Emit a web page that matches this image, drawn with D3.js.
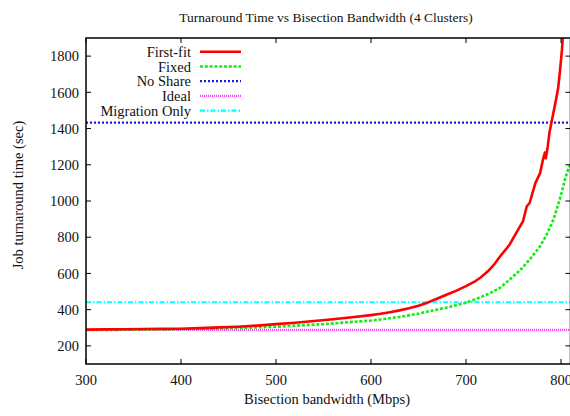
<!DOCTYPE html>
<html>
<head>
<meta charset="utf-8">
<script src="https://cdn.jsdelivr.net/npm/d3@7"></script>
<style>
  html, body { margin: 0; padding: 0; background: #fff; }
  svg { display: block; font-family: "Liberation Serif", "Times New Roman", serif; }
</style>
</head>
<body>
<svg id="chart" width="570" height="416"></svg>
<script>
// ---- data ----
const title = "Turnaround Time vs Bisection Bandwidth (4 Clusters)";
const xLabel = "Bisection bandwidth (Mbps)";
const yLabel = "Job turnaround time (sec)";
const xTicks = [300, 400, 500, 600, 700, 800];
const yTicks = [200, 400, 600, 800, 1000, 1200, 1400, 1600, 1800];

const firstFitX = [300,320,340,360,380,400,420,440,460,480,500,520,540,560,580,600,610,620,630,640,650,660,670,680,690,700,710,715,720,725,730,736,746,757,760,764,767,773,778,781,783,784,786,788,790,794,797,799,801,802];
const firstFitY = [290,291,292,293,294,295,298,302,306,312,320,328,337,347,358,370,377,386,396,408,422,440,462,484,505,530,558,576,598,622,652,695,760,861,888,971,989,1099,1154,1228,1268,1236,1300,1383,1435,1539,1622,1723,1834,1910];

const fixedX = [300,350,400,450,500,550,600,610,630,650,660,680,700,715,725,736,746,757,767,778,785,792,797,801,804,808,810];
const fixedY = [288,289,292,297,306,320,340,346,360,378,390,412,438,468,490,521,567,618,677,750,815,897,980,1053,1117,1182,1200];

const noShareValue = 1433;
const idealValue = 288;
const migrationValue = 441;

const seriesNames = ["First-fit", "Fixed", "No Share", "Ideal", "Migration Only"];

// ---- layout ----
const svg = d3.select("#chart");
const L = 86, R = 570.5, T = 38, B = 364;
const x = d3.scaleLinear().domain([300, 810]).range([L, R]);
const y = d3.scaleLinear().domain([100, 1900]).range([B, T]);

const styles = {
  "First-fit":      { color: "#ff0000", width: 2.6, dash: null },
  "Fixed":          { color: "#11ee11", width: 2.6, dash: "3,1.8" },
  "No Share":       { color: "#1a1aee", width: 2.2, dash: "2,2" },
  "Ideal":          { color: "#ee44ee", width: 2.2, dash: "1,1" },
  "Migration Only": { color: "#00ffff", width: 2.2, dash: "5,2,1.5,2" }
};

svg.append("defs").append("clipPath").attr("id", "plotclip")
  .append("rect").attr("x", L).attr("y", T).attr("width", R - L).attr("height", B - T);

const plot = svg.append("g").attr("clip-path", "url(#plotclip)");
const line = d3.line().x(d => x(d[0])).y(d => y(d[1]));

function drawSeries(name, pts) {
  const s = styles[name];
  plot.append("path")
    .datum(pts)
    .attr("d", line)
    .attr("fill", "none")
    .attr("stroke", s.color)
    .attr("stroke-width", s.width)
    .attr("stroke-dasharray", s.dash)
    .attr("stroke-linejoin", "round");
}

const xDom = x.domain();
drawSeries("Ideal", [[xDom[0], idealValue], [xDom[1], idealValue]]);
drawSeries("Migration Only", [[xDom[0], migrationValue], [xDom[1], migrationValue]]);
drawSeries("No Share", [[xDom[0], noShareValue], [xDom[1], noShareValue]]);
drawSeries("Fixed", fixedX.map((v, i) => [v, fixedY[i]]));
drawSeries("First-fit", firstFitX.map((v, i) => [v, firstFitY[i]]));

// ---- axes (ticks inward on all sides) ----
const tickLen = 5;
const axG = svg.append("g").attr("stroke", "#000").attr("stroke-width", 1);
xTicks.forEach(t => {
  axG.append("line").attr("x1", x(t)).attr("x2", x(t)).attr("y1", B).attr("y2", B - tickLen);
  axG.append("line").attr("x1", x(t)).attr("x2", x(t)).attr("y1", T).attr("y2", T + tickLen);
});
yTicks.forEach(t => {
  axG.append("line").attr("x1", L).attr("x2", L + tickLen).attr("y1", y(t)).attr("y2", y(t));
  axG.append("line").attr("x1", R).attr("x2", R - tickLen).attr("y1", y(t)).attr("y2", y(t));
});
svg.append("rect").attr("x", L).attr("y", T).attr("width", R - L).attr("height", B - T)
  .attr("fill", "none").attr("stroke", "#000").attr("stroke-width", 1.5);

const fs = 14.5;
svg.append("g").selectAll("text").data(xTicks).join("text")
  .attr("x", d => x(d)).attr("y", 385).attr("text-anchor", "middle")
  .attr("font-size", fs).attr("fill", "#111").text(d => d);
svg.append("g").selectAll("text").data(yTicks).join("text")
  .attr("x", 79).attr("y", d => y(d)).attr("dy", "0.36em").attr("text-anchor", "end")
  .attr("font-size", fs).attr("fill", "#111").text(d => d);

svg.append("text").attr("x", 327).attr("y", 404).attr("text-anchor", "middle")
  .attr("font-size", fs).attr("fill", "#111").text(xLabel);
svg.append("text").attr("transform", "translate(23,195) rotate(-90)").attr("text-anchor", "middle")
  .attr("font-size", fs).attr("fill", "#111").text(yLabel);
svg.append("text").attr("x", 326).attr("y", 22).attr("text-anchor", "middle")
  .attr("font-size", 13.5).attr("fill", "#111").text(title);

// ---- legend ----
const leg = svg.append("g");
seriesNames.forEach((n, i) => {
  const cy = 51.7 + i * 14.75;
  const s = styles[n];
  leg.append("text").attr("x", 191).attr("y", cy).attr("dy", "0.36em").attr("text-anchor", "end")
    .attr("font-size", fs).attr("fill", "#111").text(n);
  leg.append("line").attr("x1", 200).attr("x2", 241).attr("y1", cy).attr("y2", cy)
    .attr("stroke", s.color).attr("stroke-width", s.width).attr("stroke-dasharray", s.dash);
});
</script>
</body>
</html>
